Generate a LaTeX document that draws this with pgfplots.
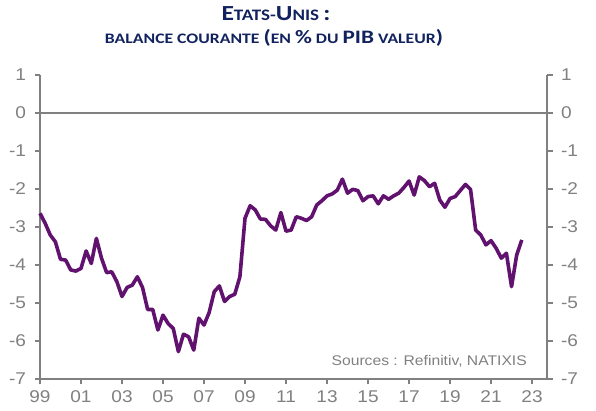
\documentclass[border=0pt]{standalone}
\usepackage{graphicx}
\usepackage{pgfplots}
\usepackage{pgfplotstable}
\pgfplotsset{compat=1.18}
\usepackage{fontspec}
\setmainfont{Liberation Sans}[FakeStretch=1.12]
\newfontfamily\titlefont{Carlito}
\definecolor{axgray}{RGB}{128,128,128}
\definecolor{navy}{RGB}{17,34,94}
\definecolor{lineviolet}{RGB}{97,17,110}
\pgfplotstableread{
t v
1999.00 -2.64
1999.25 -2.90
1999.50 -3.21
1999.75 -3.39
2000.00 -3.85
2000.25 -3.87
2000.50 -4.13
2000.75 -4.16
2001.00 -4.09
2001.25 -3.63
2001.50 -3.96
2001.75 -3.30
2002.00 -3.82
2002.25 -4.20
2002.50 -4.18
2002.75 -4.44
2003.00 -4.83
2003.25 -4.59
2003.50 -4.53
2003.75 -4.31
2004.00 -4.59
2004.25 -5.17
2004.50 -5.17
2004.75 -5.71
2005.00 -5.32
2005.25 -5.54
2005.50 -5.67
2005.75 -6.28
2006.00 -5.82
2006.25 -5.89
2006.50 -6.24
2006.75 -5.40
2007.00 -5.58
2007.25 -5.25
2007.50 -4.70
2007.75 -4.55
2008.00 -4.96
2008.25 -4.83
2008.50 -4.77
2008.75 -4.31
2009.00 -2.77
2009.25 -2.44
2009.50 -2.55
2009.75 -2.79
2010.00 -2.80
2010.25 -2.97
2010.50 -3.08
2010.75 -2.62
2011.00 -3.11
2011.25 -3.08
2011.50 -2.73
2011.75 -2.77
2012.00 -2.83
2012.25 -2.73
2012.50 -2.42
2012.75 -2.31
2013.00 -2.18
2013.25 -2.13
2013.50 -2.03
2013.75 -1.74
2014.00 -2.11
2014.25 -2.01
2014.50 -2.04
2014.75 -2.31
2015.00 -2.20
2015.25 -2.18
2015.50 -2.39
2015.75 -2.18
2016.00 -2.27
2016.25 -2.18
2016.50 -2.11
2016.75 -1.96
2017.00 -1.79
2017.25 -2.16
2017.50 -1.68
2017.75 -1.78
2018.00 -1.94
2018.25 -1.85
2018.50 -2.29
2018.75 -2.48
2019.00 -2.25
2019.25 -2.20
2019.50 -2.04
2019.75 -1.88
2020.00 -2.01
2020.25 -3.08
2020.50 -3.21
2020.75 -3.47
2021.00 -3.36
2021.25 -3.56
2021.50 -3.82
2021.75 -3.69
2022.00 -4.57
2022.25 -3.74
2022.50 -3.34
}\datatable
\pgfplotsset{
  common/.style={
    at={(0pt,0pt)}, anchor=south west,
    scale only axis, width=507pt, height=304pt,
    xmin=1999, xmax=2023.73, ymin=-7, ymax=1,
    axis line style={axgray, line width=1.3pt, -},
    tick align=outside, major tick length=5.5pt,
    tick style={axgray, line width=1.3pt},
    ticklabel style={font=\fontsize{17}{17}\selectfont, text=axgray},
    /pgf/number format/assume math mode=true,
    ytick={-7,-6,...,1},
    clip=false,
  }
}
\begin{document}
\begin{tikzpicture}
\path[use as bounding box] (-40pt,-32pt) rectangle (556pt,379pt);
\begin{axis}[common,
  axis x line*=bottom, axis y line*=left,
  xtick={1999,2001,...,2023},
  xticklabels={99,01,03,05,07,09,11,13,15,17,19,21,23},
  xticklabel style={yshift=-3pt},
  yticklabel style={xshift=-5pt},
]
\addplot[axgray, line width=1.3pt] coordinates {(1999,0) (2023.73,0)};
\addplot[lineviolet, line width=3.6pt, line join=round] table[x=t,y=v]{\datatable};
\end{axis}
\begin{axis}[common,
  axis x line=none, axis y line*=right,
  yticklabel style={xshift=5pt},
]
\end{axis}
\node[anchor=base east, text=axgray, font=\fontsize{14}{14}\selectfont, inner sep=0pt] at (487pt,13pt) {Sources : Refinitiv, NATIXIS};
\node[anchor=base, text=navy, font=\titlefont\bfseries, inner sep=0pt] at (236pt,358pt)
 {\resizebox{109pt}{\height}{{\fontsize{21.5}{21.5}\selectfont E}{\fontsize{16}{16}\selectfont TATS-}{\fontsize{21.5}{21.5}\selectfont U}{\fontsize{16}{16}\selectfont NIS }{\fontsize{21.5}{21.5}\selectfont :}}};
\node[anchor=base, text=navy, font=\titlefont\bfseries, inner sep=0pt] at (234pt,335pt)
 {\resizebox{338pt}{\height}{{\fontsize{14.5}{14.5}\selectfont BALANCE COURANTE }{\fontsize{19}{19}\selectfont (}{\fontsize{14.5}{14.5}\selectfont EN }{\fontsize{19}{19}\selectfont \%}{\fontsize{14.5}{14.5}\selectfont{} DU }{\fontsize{19}{19}\selectfont PIB}{\fontsize{14.5}{14.5}\selectfont{} VALEUR}{\fontsize{19}{19}\selectfont )}}};
\end{tikzpicture}
\end{document}
